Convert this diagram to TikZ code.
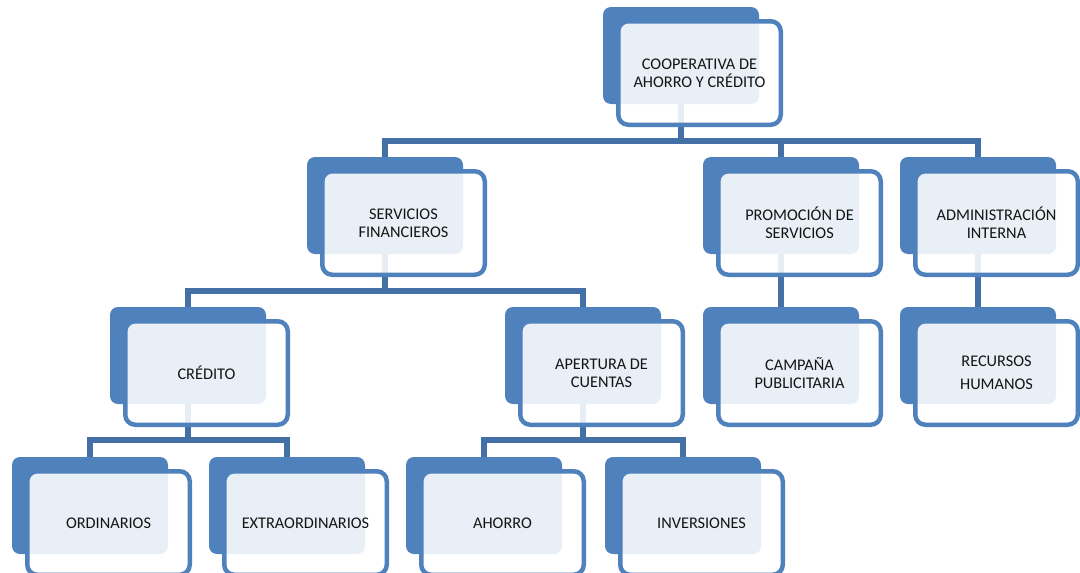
\documentclass[tikz,border=0pt]{standalone}
\usepackage{fontspec}
\setmainfont{Carlito}

\definecolor{boxblue}{RGB}{79,129,189}
\definecolor{linkblue}{RGB}{68,112,168}
\definecolor{ink}{RGB}{20,20,20}

\pgfdeclarelayer{links}
\pgfsetlayers{links,main}

\tikzset{
  backbox/.style={draw=none, fill=boxblue, rounded corners=8pt,
    minimum width=156pt, minimum height=97pt, inner sep=0pt, outer sep=0pt},
  frontbox/.style={draw=boxblue, line width=4.5pt, fill=white,
    fill opacity=0.88, draw opacity=1, text opacity=1, rounded corners=10pt,
    minimum width=162.5pt, minimum height=103.5pt, inner sep=0pt,
    align=center, font=\fontsize{16.3}{18}\selectfont, text=ink},
  link/.style={draw=linkblue, line width=5.5pt}
}

% one unit of the chart: solid back card plus framed front card with its label
% #1 name, #2/#3 top-left corner of the back card, #4 label
\newcommand\orgunit[4]{%
  \node[backbox] (#1) at (#2+78,#3+48.5) {};
  \node[frontbox] (#1-f) at ([shift={(18.5,17.5)}]#1.center) {#4};
}

\begin{document}
\begin{tikzpicture}[x=1pt,y=-1pt]
  \useasboundingbox (0,0) rectangle (1080,573);

  % units
  \orgunit{coop}{603}{7}{COOPERATIVA DE\\AHORRO Y CRÉDITO}
  \orgunit{serv}{307}{157}{SERVICIOS\\FINANCIEROS}
  \orgunit{prom}{703}{157}{PROMOCIÓN DE\\SERVICIOS}
  \orgunit{admin}{900}{157}{ADMINISTRACIÓN\\INTERNA}
  \orgunit{cred}{110}{307}{CRÉDITO}
  \orgunit{aper}{505}{307}{APERTURA DE\\CUENTAS}
  \orgunit{camp}{703}{307}{CAMPAÑA\\PUBLICITARIA}
  \orgunit{recu}{900}{307}{RECURSOS\\[5pt]HUMANOS}
  \orgunit{ord}{12}{457}{ORDINARIOS}
  \orgunit{extra}{209}{457}{EXTRAORDINARIOS}
  \orgunit{ahor}{406}{457}{AHORRO}
  \orgunit{inv}{605}{457}{INVERSIONES}

  % connectors, kept underneath the cards
  \begin{pgfonlayer}{links}
    \fill[white] (0,0) rectangle (1080,573);
    \coordinate (b0) at (0,141);
    \coordinate (b1) at (0,291);
    \coordinate (b2) at (0,440);

    \draw[link] (coop.center) -- (coop.center |- b0);
    \draw[link] (serv.north) |- (admin.north |- b0) -- (admin.north);
    \draw[link] (prom.north) -- (prom.north |- b0);

    \draw[link] (serv.center) -- (serv.center |- b1);
    \draw[link] (cred.north) |- (aper.north |- b1) -- (aper.north);
    \draw[link] (prom.center) -- (camp.north);
    \draw[link] (admin.center) -- (recu.north);

    \draw[link] (cred.center) -- (cred.center |- b2);
    \draw[link] (ord.north) |- (extra.north |- b2) -- (extra.north);
    \draw[link] (aper.center) -- (aper.center |- b2);
    \draw[link] (ahor.north) |- (inv.north |- b2) -- (inv.north);
  \end{pgfonlayer}
\end{tikzpicture}
\end{document}
